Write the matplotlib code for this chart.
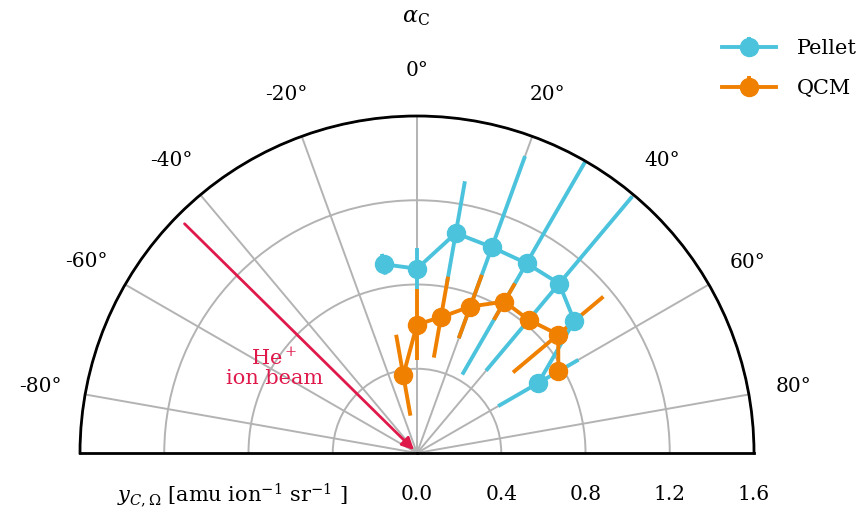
import numpy as np
import matplotlib
matplotlib.use('Agg')
import matplotlib.pyplot as plt
from matplotlib.transforms import offset_copy

# angles (deg) and yields
angles = [-10, 0, 10, 20, 30, 40, 50, 60]
pellet = [0.91, 0.875, 1.06, 1.04, 1.04, 1.05, 0.975, 0.665]
pellet_err = [0.05, 0.10, 0.25, 0.46, 0.61, 0.54, 0.04, 0.22]
qcm = [0.375, 0.61, 0.655, 0.74, 0.83, 0.825, 0.875, 0.775]
qcm_err = [0.195, 0.17, 0.195, 0.16, 0.10, 0.03, 0.28, 0.03]

theta_ticks = [-80, -60, -40, -20, 0, 20, 40, 60, 80]
r_ticks = [0.0, 0.4, 0.8, 1.2, 1.6]

blue = '#4cc3dc'
orange = '#f08000'
crimson = '#e0194b'

plt.rcParams['font.family'] = 'DejaVu Serif'
plt.rcParams['mathtext.fontset'] = 'dejavuserif'
plt.rcParams['font.size'] = 14.5

fig = plt.figure(figsize=(8.65, 5.12), dpi=100)
# half-disc sits in the middle half of a square box
ax = fig.add_axes([80 / 865, -109.5 / 512, 674 / 865, 674 / 512], projection='polar')
ax.set_theta_zero_location('N')
ax.set_theta_direction(-1)
ax.set_thetamin(-90)
ax.set_thetamax(90)
ax.set_ylim(0, 1.6)
ax.set_aspect('auto')

th = np.deg2rad(angles)
ax.errorbar(th, pellet, yerr=pellet_err, color=blue, marker='o', ms=13, lw=2.8,
            elinewidth=2.8, capsize=0, label='Pellet')
ax.errorbar(th, qcm, yerr=qcm_err, color=orange, marker='o', ms=13, lw=2.8,
            elinewidth=2.8, capsize=0, label='QCM')

ax.set_thetagrids(theta_ticks, labels=[f'{t}°' for t in theta_ticks])
ax.set_yticks(r_ticks[1:])
ax.set_yticklabels([])
ax.grid(True, color='#b3b3b3', lw=1.4)
ax.tick_params(axis='x', pad=25.4, length=0, labelsize=14.5)
ax.tick_params(axis='y', length=0)
for s in ax.spines.values():
    s.set_linewidth(2)
    s.set_color('black')

# radial labels under the flat edge
tr = offset_copy(ax.transData, fig=fig, y=-42, units='dots')
for r in r_ticks:
    ax.text(np.pi / 2, r, f'{r:.1f}', transform=tr, ha='center', va='center', clip_on=False)

# ion beam arrow
ax.annotate('', xy=(np.deg2rad(-45), 0.02), xytext=(np.deg2rad(-45.4), 1.55),
            arrowprops=dict(arrowstyle='-|>', color=crimson, lw=2, mutation_scale=18,
                            shrinkA=0, shrinkB=0))
ax.text(np.deg2rad(-59), 0.79, 'He$^+$\nion beam', color=crimson, ha='center', va='center',
        fontsize=15, linespacing=1.0)

fig.text(348 / 865, 1 - 495 / 512, r'$y_{C,\Omega}$ [amu ion$^{-1}$ sr$^{-1}$ ]',
         ha='right', va='center', fontsize=15)
fig.text(416 / 865, 1 - 17 / 512, r'$\alpha_\mathrm{C}$', ha='center', va='center', fontsize=16)

fig.legend(loc='upper right', bbox_to_anchor=(1.012, 0.96), frameon=False, fontsize=15,
           handlelength=2.6, handletextpad=1.0, labelspacing=1.0)

fig.savefig('out.png', dpi=100)
